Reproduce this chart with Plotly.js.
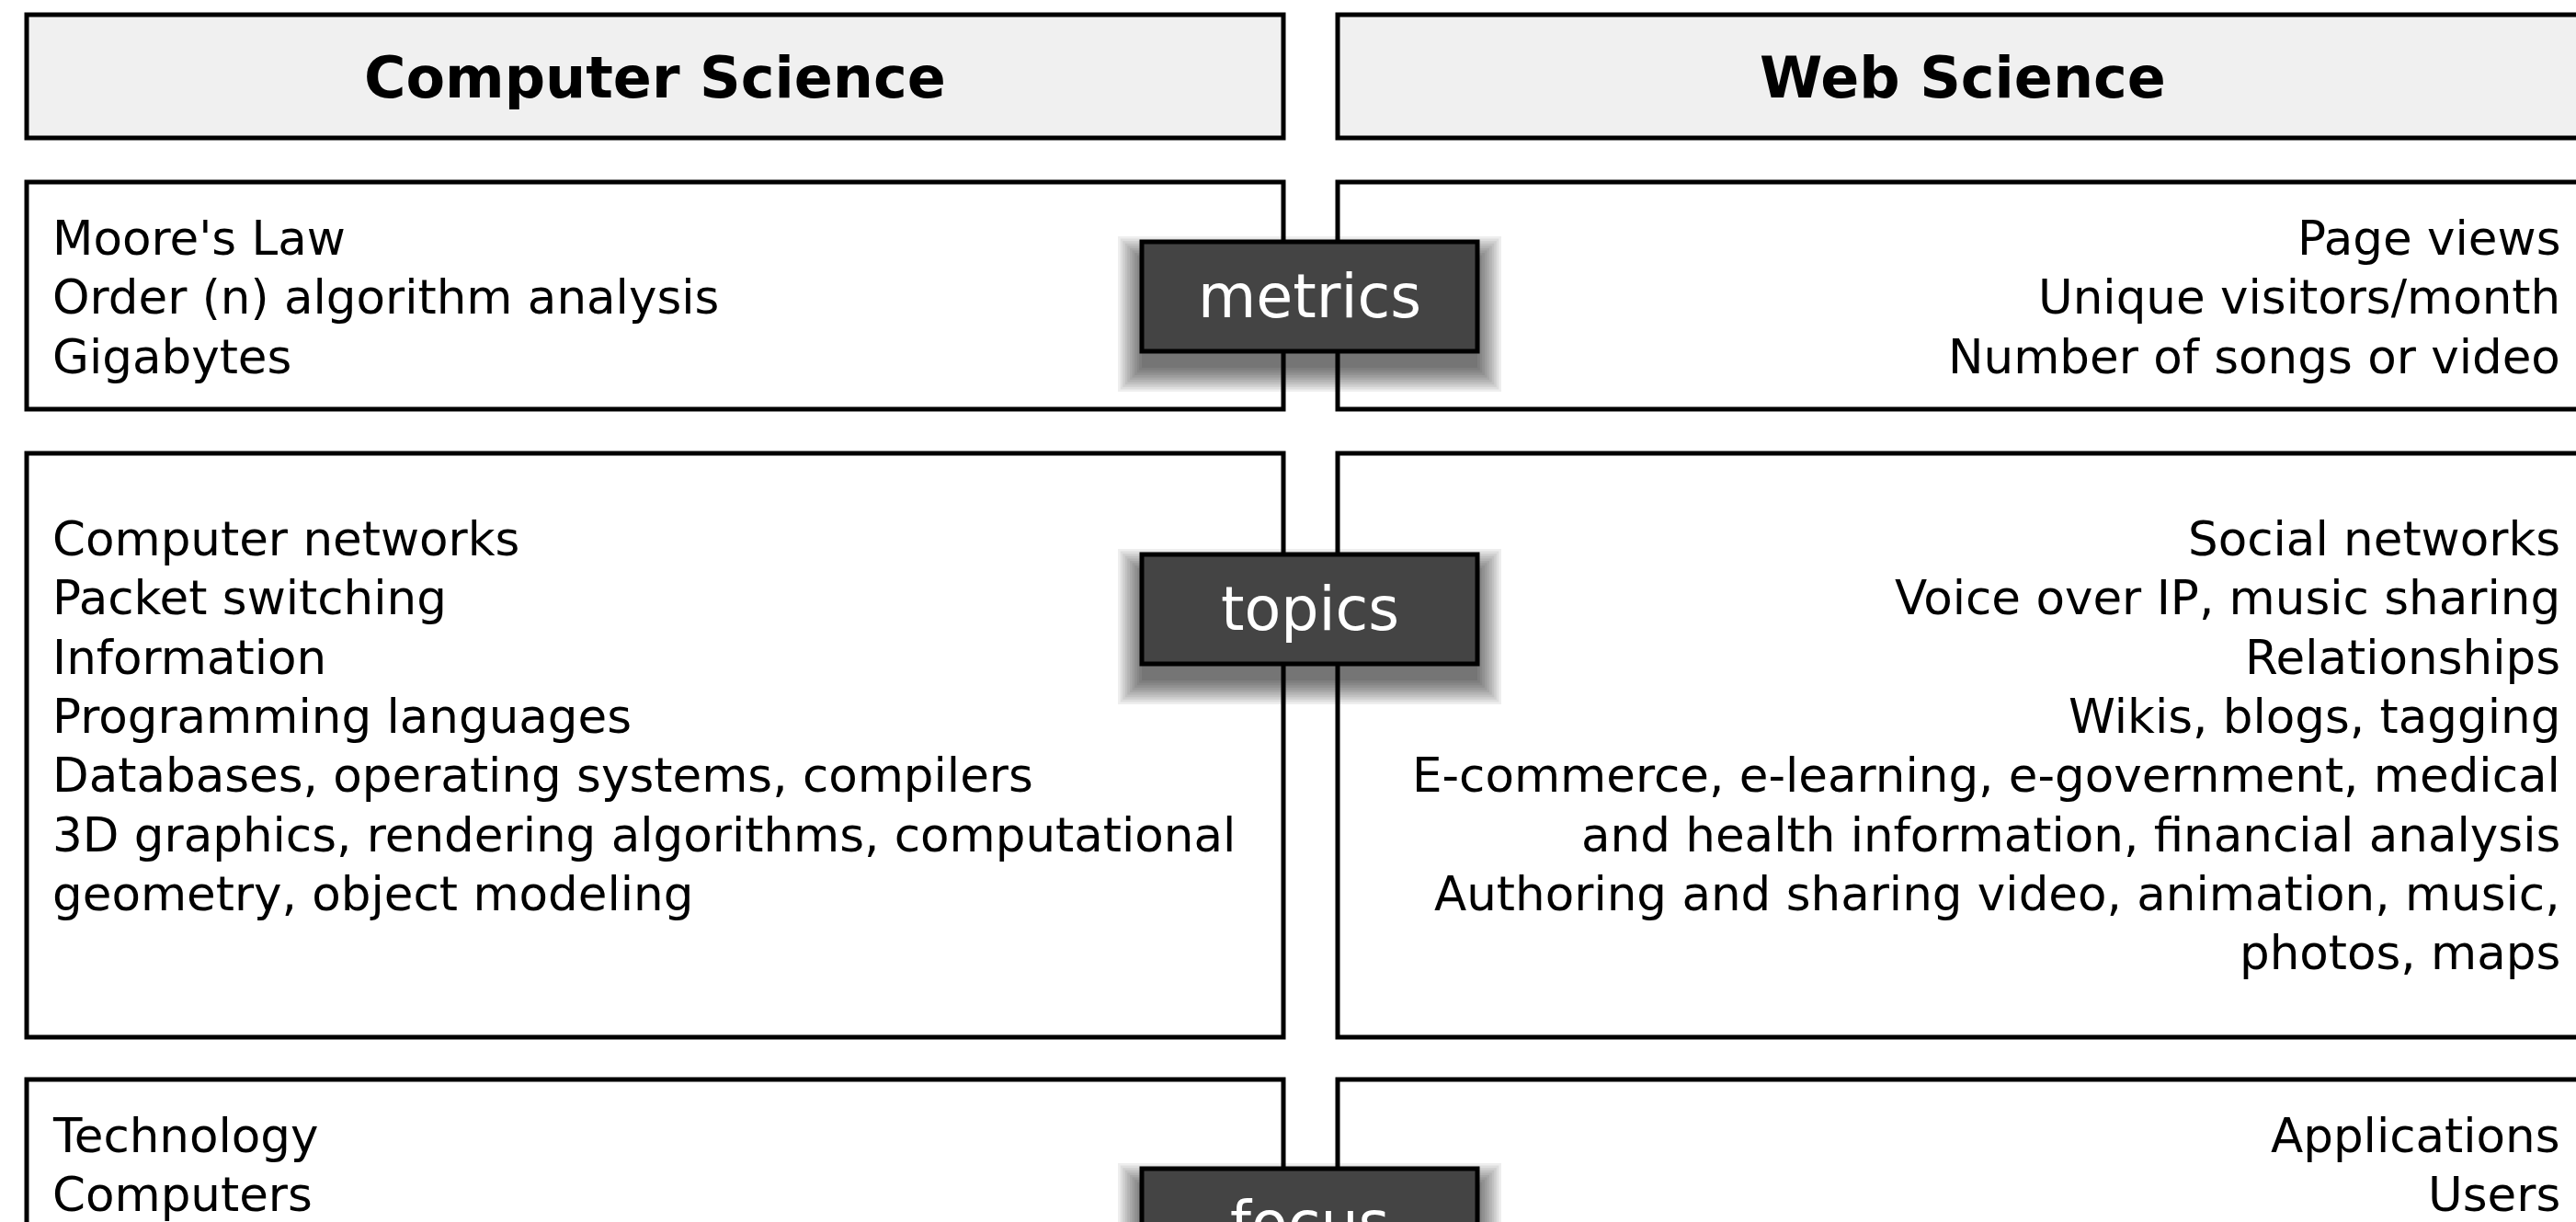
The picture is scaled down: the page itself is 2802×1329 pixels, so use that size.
<!DOCTYPE html>
<html>
<head>
<meta charset="utf-8">
<script src="https://cdn.plot.ly/plotly-3.0.1.min.js"></script>
<style>html,body{margin:0;padding:0;background:#fff;overflow:hidden}</style>
</head>
<body>
<div id="chart" style="width:2802px;height:1329px"></div>
<script>
// ---- content ----
const columns = ["Computer Science", "Web Science"];
const rowLabels = ["metrics", "topics", "focus"];
const csMetrics = ["Moore's Law", "Order (n) algorithm analysis", "Gigabytes"];
const wsMetrics = ["Page views", "Unique visitors/month", "Number of songs or video"];
const csTopics = ["Computer networks", "Packet switching", "Information", "Programming languages",
  "Databases, operating systems, compilers", "3D graphics, rendering algorithms, computational",
  "geometry, object modeling"];
const wsTopics = ["Social networks", "Voice over IP, music sharing", "Relationships", "Wikis, blogs, tagging",
  "E-commerce, e-learning, e-government, medical", "and health information, financial analysis",
  "Authoring and sharing video, animation, music,", "photos, maps"];
const csFocus = ["Technology", "Computers"];
const wsFocus = ["Applications", "Users"];
const leftItems = [csMetrics, csTopics, csFocus];
const rightItems = [wsMetrics, wsTopics, wsFocus];

// ---- geometry / style ----
const W = 2802, H = 1329;
const colX = [[29, 1396], [1455, 2814]];
const header = {y0: 16, y1: 150, textY: 84};
const rows = [
  {y0: 198, y1: 445, first: 259},
  {y0: 493, y1: 1128, first: 586},
  {y0: 1174, y1: 1440, first: 1235}
];
const LINE = 64.3;
const labelX = [1242, 1607];
const labelTop = [263, 603, 1271];
const labelH = 119;
const FONT = "DejaVu Sans";
const textLeft = 55, textRight = 2787;

const shapes = [];
const annotations = [];

function rect(x0, y0, x1, y1, fill, lw, lc) {
  shapes.push({type: "rect", xref: "x", yref: "y", x0, y0, x1, y1,
    fillcolor: fill, line: {width: lw, color: lc || "#000"}, layer: "above"});
}
function addText(x, y, text, opts) {
  let yy = y, shift = 0;
  if (yy > H - 8) { shift = -(yy - (H - 8)); yy = H - 8; }
  annotations.push(Object.assign({xref: "x", yref: "y", x, y: yy, yshift: shift, text,
    showarrow: false, yanchor: "middle"}, opts));
}

// header boxes
columns.forEach((c, i) => {
  rect(colX[i][0], header.y0, colX[i][1], header.y1, "#f0f0f0", 5);
  addText((colX[i][0] + colX[i][1]) / 2, header.textY, c,
    {xanchor: "center", font: {family: FONT, size: 62, color: "#000", weight: "bold"}});
});

// rows
rows.forEach((r, k) => {
  rect(colX[0][0], r.y0, colX[0][1], r.y1, "#ffffff", 5);
  rect(colX[1][0], r.y0, colX[1][1], r.y1, "#ffffff", 5);
  leftItems[k].forEach((t, j) => addText(textLeft, r.first + j * LINE, t,
    {xanchor: "left", font: {family: FONT, size: 51.5, color: "#000"}}));
  rightItems[k].forEach((t, j) => addText(textRight, r.first + j * LINE, t,
    {xanchor: "right", font: {family: FONT, size: 51.5, color: "#000"}}));
});

// label shadows (offset downward, soft)
labelTop.forEach(t => {
  for (let i = 0; i < 11; i++) {
    const e = i * 2.6;
    shapes.push({type: "rect", xref: "x", yref: "y",
      x0: labelX[0] - e, x1: labelX[1] + e, y0: t + 20 - e, y1: t + labelH + 18 + e,
      fillcolor: "rgba(0,0,0,0.065)", line: {width: 0}, layer: "above"});
  }
});
// labels
rowLabels.forEach((l, k) => {
  const t = labelTop[k];
  rect(labelX[0], t, labelX[1], t + labelH, "#444444", 5);
  addText((labelX[0] + labelX[1]) / 2, t + labelH / 2, l,
    {xanchor: "center", font: {family: FONT, size: 65, color: "#ffffff"}});
});

const data = [{type: "scatter", mode: "markers", x: [0, W], y: [0, H],
  marker: {opacity: 0}, hoverinfo: "skip", showlegend: false}];

const layout = {
  width: W, height: H,
  margin: {l: 0, r: 0, t: 0, b: 0, pad: 0},
  paper_bgcolor: "#ffffff", plot_bgcolor: "#ffffff",
  xaxis: {range: [0, W], visible: false, fixedrange: true},
  yaxis: {range: [H, 0], visible: false, fixedrange: true},
  shapes, annotations, showlegend: false
};
Plotly.newPlot("chart", data, layout, {staticPlot: true, displayModeBar: false});
</script>
</body>
</html>
